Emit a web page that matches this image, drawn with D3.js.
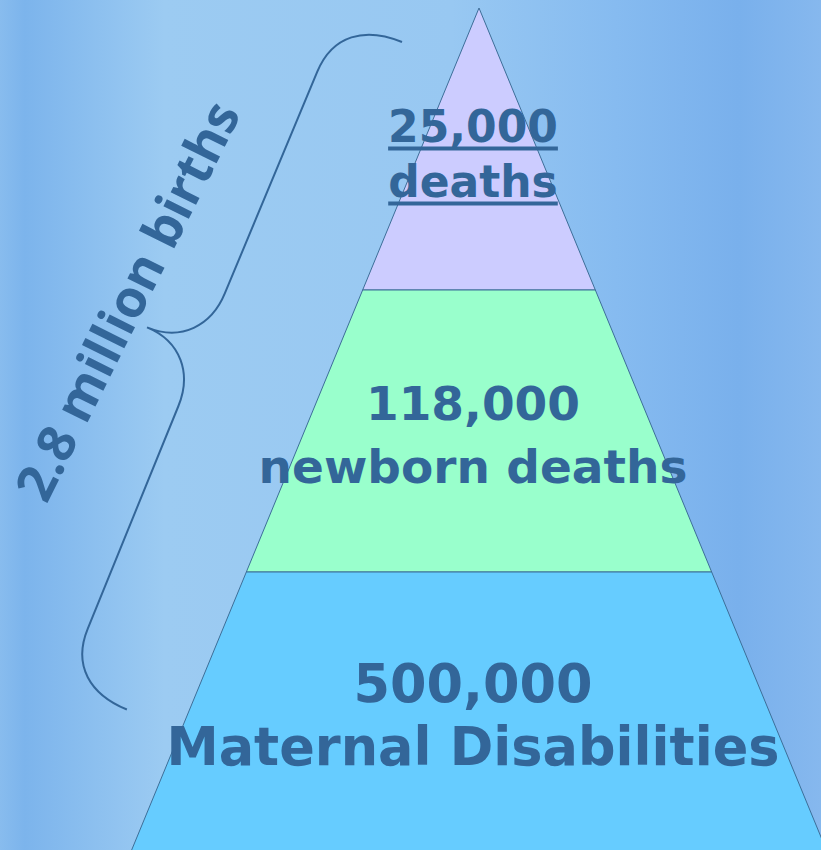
<!DOCTYPE html>
<html>
<head>
<meta charset="utf-8">
<script src="https://cdn.jsdelivr.net/npm/d3@7"></script>
<style>
  html, body { margin: 0; padding: 0; overflow: hidden; }
  svg { display: block; }
</style>
</head>
<body>
<div id="chart"></div>
<script>
// Pyramid tiers, top to bottom
var tiers = ["top", "middle", "bottom"],
tierValues = ["25,000", "118,000", "500,000"],
tierLabels = ["deaths", "newborn deaths", "Maternal Disabilities"],
tierColors = ["#ccccff", "#99ffcc", "#66ccff"],
underlined = [true, false, false],
braceLabel = "2.8 million births";

var width = 821, height = 850,
textColor = "#336699",
apex = {x: 479, y: 8},
baseY = 854, baseHalf = 349,
fontSizes = [44, 47, 52.5],
lineGaps = [55, 63, 63];

var svg = d3.select("#chart").append("svg")
  .attr("width", width)
  .attr("height", height);

// Background gradient
var defs = svg.append("defs");
var bg = defs.append("linearGradient").attr("id", "bg")
  .attr("x1", 0).attr("x2", 1).attr("y1", 0).attr("y2", 0);
[[0, "#88bcee"], [0.03, "#7cb4ec"], [0.2, "#9ccbf2"], [0.55, "#98c8f2"],
 [0.75, "#86bbf0"], [0.9, "#79b0ec"], [1, "#86b8ee"]].forEach(function(s){
  bg.append("stop").attr("offset", s[0]).attr("stop-color", s[1]);
});
svg.append("rect").attr("width", width).attr("height", height).attr("fill", "url(#bg)");

// Scales: vertical bands and half-width of the pyramid at a given y
var yBand = d3.scaleBand().domain(tiers).range([apex.y, baseY]).padding(0);
var halfW = d3.scaleLinear().domain([apex.y, baseY]).range([0, baseHalf]);

var tierG = svg.append("g").selectAll("g.tier")
  .data(tiers)
  .enter().append("g")
  .attr("class", "tier");

tierG.append("path")
  .attr("d", function(d){
    var y0 = yBand(d), y1 = y0 + yBand.bandwidth();
    var pts = [[apex.x - halfW(y0), y0], [apex.x + halfW(y0), y0],
               [apex.x + halfW(y1), y1], [apex.x - halfW(y1), y1]];
    return d3.line()(pts) + "Z";
  })
  .attr("fill", function(d, i){ return tierColors[i]; })
  .attr("stroke", "#3d6e98")
  .attr("stroke-width", 1);

// Labels inside the tiers
tierG.each(function(d, i){
  var g = d3.select(this),
  cy = yBand(d) + 161,
  cx = 473,
  lines = [tierValues[i], tierLabels[i]];
  lines.forEach(function(txt, j){
    var yy = cy + (j === 0 ? -lineGaps[i] / 2 : lineGaps[i] / 2);
    var t = g.append("text")
      .attr("x", cx)
      .attr("y", yy)
      .attr("text-anchor", "middle")
      .attr("font-family", "'DejaVu Sans', Verdana, sans-serif")
      .attr("font-weight", "bold")
      .attr("font-size", fontSizes[i])
      .attr("fill", textColor)
      .text(txt);
    if (underlined[i]) {
      var w = t.node().getComputedTextLength();
      g.append("rect")
        .attr("x", cx - w / 2)
        .attr("y", yy + 5)
        .attr("width", w)
        .attr("height", 4)
        .attr("fill", textColor);
    }
  });
});

// Curly brace along the left side
var braceLen = 722, armOff = 67, tipOff = 127;
var braceG = svg.append("g")
  .attr("transform", "translate(402,42) rotate(112.4)");
var m = braceLen / 2;
var bracePath = d3.path();
bracePath.moveTo(0, 0);
bracePath.bezierCurveTo(0, 40, 20, armOff, 60, armOff);
bracePath.lineTo(m - 61, armOff + 1);
bracePath.bezierCurveTo(m - 26, armOff + 1, m, armOff + 23, m, tipOff);
bracePath.bezierCurveTo(m, armOff + 23, m + 26, armOff + 1, m + 61, armOff + 1);
bracePath.lineTo(braceLen - 60, armOff);
bracePath.bezierCurveTo(braceLen - 20, armOff, braceLen, 40, braceLen, 0);
braceG.append("path")
  .attr("d", bracePath.toString())
  .attr("fill", "none")
  .attr("stroke", textColor)
  .attr("stroke-width", 2);

// Rotated brace label
svg.append("text")
  .attr("transform", "translate(144,309) rotate(-63.5)")
  .attr("text-anchor", "middle")
  .attr("font-family", "'Open Sans', sans-serif")
  .attr("font-weight", 700)
  .attr("font-size", 52)
  .attr("fill", textColor)
  .text(braceLabel);
</script>
</body>
</html>
